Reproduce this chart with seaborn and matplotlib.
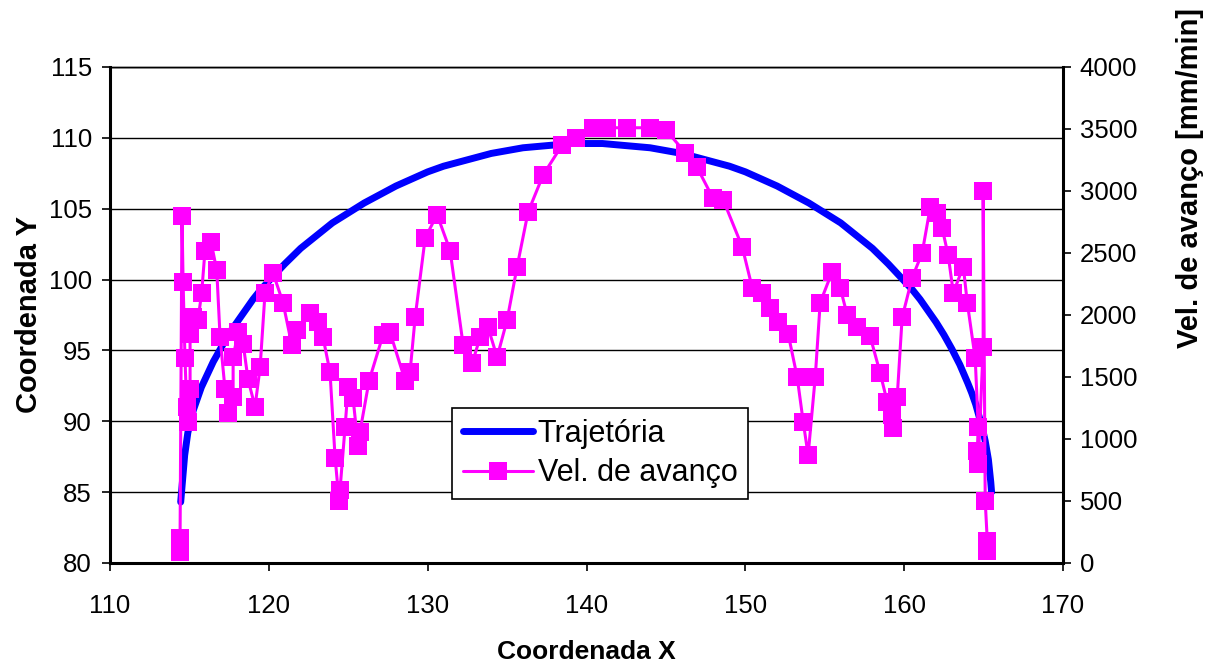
import matplotlib
matplotlib.use("Agg")
import matplotlib.pyplot as plt
import seaborn as sns
import pandas as pd
from matplotlib.lines import Line2D

# ---- data ----
traj_x = [114.45, 114.7, 114.9, 115.25, 115.75, 116.5, 117, 117.5, 118, 118.5, 119, 119.5,
          120, 121, 122, 123, 124, 125, 126, 127, 128, 129, 130, 131, 132, 133, 134, 135,
          136, 137, 138, 139, 140, 141, 142, 143, 144, 145, 146, 147, 148, 149, 150, 151,
          152, 153, 154, 155, 156, 157, 158, 159, 160, 160.5, 161, 161.5, 162, 162.5, 163,
          163.5, 164, 164.25, 164.5, 164.75, 165.0, 165.1, 165.3, 165.45, 165.5]
traj_y = [84.3, 87.6, 89.2, 90.8, 92.4, 94.2, 95.2, 96.2, 97.0, 97.8, 98.6, 99.3,
          99.9, 101.1, 102.2, 103.1, 104.0, 104.7, 105.4, 106.0, 106.6, 107.1, 107.6, 108.0,
          108.3, 108.6, 108.9, 109.1, 109.3, 109.4, 109.5, 109.6, 109.6, 109.6, 109.5, 109.4,
          109.3, 109.1, 108.9, 108.6, 108.3, 108.0, 107.6, 107.1, 106.6, 106.0, 105.4, 104.7,
          104.0, 103.1, 102.2, 101.1, 99.9, 99.3, 98.6, 97.8, 97.0, 96.1, 95.1,
          94.0, 92.7, 92.0, 91.2, 90.2, 89.1, 88.6, 87.3, 85.7, 85.0]

vel_x = [114.41, 114.41, 114.53, 114.60, 114.72, 114.83, 114.91, 115.04, 115.04, 115.23,
         115.54, 115.77, 115.98, 116.36, 116.72, 116.93, 117.24, 117.43, 117.75, 117.75,
         118.06, 118.38, 118.69, 119.13, 119.45, 119.76, 120.26, 120.89, 121.44, 121.76,
         122.59, 123.10, 123.41, 123.85, 124.17, 124.42, 124.48, 124.80, 124.99, 125.30,
         125.62, 125.74, 126.31, 127.19, 127.63, 128.58, 128.89, 129.21, 129.84, 130.59,
         131.41, 132.23, 132.80, 133.30, 133.80, 134.37, 135.00, 135.63, 136.32, 137.27,
         138.46, 139.35, 140.42, 141.30, 142.56, 144.00, 145.01, 146.21, 146.96, 147.97,
         148.60, 149.80, 150.43, 151.06, 151.56, 152.07, 152.69, 153.26, 153.64, 153.95,
         154.40, 154.71, 155.47, 155.97, 156.41, 157.04, 157.85, 158.49, 158.93, 159.24,
         159.31, 159.56, 159.87, 160.50, 161.13, 161.64, 162.08, 162.39, 162.77, 163.09,
         163.72, 163.97, 164.47, 164.66, 164.60, 164.66, 164.97, 164.97, 165.10, 165.23,
         165.23]
vel_v = [90, 200, 2800, 2270, 1650, 1260, 1140, 1400, 1850, 1980,
         1960, 2180, 2520, 2590, 2360, 1820, 1400, 1210, 1340, 1660,
         1860, 1770, 1480, 1260, 1580, 2180, 2340, 2100, 1760, 1880,
         2020, 1940, 1820, 1540, 850, 500, 590, 1100, 1420, 1330,
         940, 1060, 1470, 1840, 1860, 1470, 1540, 1980, 2620, 2810,
         2520, 1760, 1610, 1820, 1900, 1660, 1960, 2390, 2830, 3130,
         3370, 3430, 3510, 3510, 3510, 3510, 3490, 3310, 3190, 2940,
         2930, 2550, 2220, 2180, 2060, 1940, 1850, 1500, 1140, 870,
         1500, 2100, 2350, 2220, 2000, 1900, 1830, 1530, 1300, 1190,
         1090, 1340, 1980, 2300, 2500, 2870, 2820, 2700, 2480, 2180,
         2390, 2100, 1650, 1100, 900, 800, 1740, 3000, 500, 180,
         100]

x_ticks = [110, 120, 130, 140, 150, 160, 170]
y_ticks = [80, 85, 90, 95, 100, 105, 110, 115]
v_ticks = [0, 500, 1000, 1500, 2000, 2500, 3000, 3500, 4000]

BLUE = "#0000FF"
MAGENTA = "#FF00FF"

sns.set_style("ticks")
plt.rcParams['font.family'] = ['Liberation Sans', 'DejaVu Sans']
plt.rcParams['text.color'] = 'black'
plt.rcParams['axes.labelcolor'] = 'black'

fig = plt.figure(figsize=(12.05, 6.66), dpi=100)
ax = fig.add_axes([0.0913, 0.1547, 0.7909, 0.7447])
ax2 = ax.twinx()

traj = pd.DataFrame({"x": traj_x, "y": traj_y})
vel = pd.DataFrame({"x": vel_x, "v": vel_v})

sns.lineplot(data=traj, x="x", y="y", ax=ax, color=BLUE, linewidth=5,
             sort=False, estimator=None, legend=False, zorder=3,
             solid_capstyle="round", solid_joinstyle="round")
sns.lineplot(data=vel, x="x", y="v", ax=ax2, color=MAGENTA, linewidth=2.2,
             marker="s", markersize=12.5, markeredgecolor=MAGENTA, markeredgewidth=0,
             sort=False, estimator=None, legend=False, zorder=3)

ax.set_xlim(110, 170)
ax.set_ylim(80, 115)
ax2.set_ylim(0, 4000)
ax.set_xticks(x_ticks)
ax.set_yticks(y_ticks)
ax2.set_yticks(v_ticks)

ax.yaxis.grid(True, color="black", linewidth=1.0)
ax.xaxis.grid(False)
ax2.grid(False)

for a in (ax, ax2):
    for s in a.spines.values():
        s.set_color("black")
ax.spines["left"].set_linewidth(2.2)
ax.spines["bottom"].set_linewidth(2.2)
ax.spines["top"].set_linewidth(1.0)
ax2.spines["right"].set_linewidth(2.2)
ax2.spines["top"].set_linewidth(1.0)
ax.spines["right"].set_visible(False)
ax2.spines["left"].set_visible(False)
ax2.spines["bottom"].set_visible(False)

ax.tick_params(axis="x", direction="out", length=6, width=1.2, pad=16, labelsize=18.5, colors="black")
ax.tick_params(axis="y", direction="out", length=6, width=1.2, pad=7, labelsize=18.5, colors="black")
ax2.tick_params(axis="y", direction="out", length=6, width=1.2, pad=6, labelsize=18.5, colors="black")

ax.set_xlabel("Coordenada X", fontsize=19, fontweight="bold")
ax.set_ylabel("Coordenada Y", fontsize=21, fontweight="bold")
ax2.set_ylabel("Vel. de avanço [mm/min]", fontsize=21, fontweight="bold")
ax.xaxis.set_label_coords(0.5, -0.155)
ax.yaxis.set_label_coords(-0.07, 0.5)
ax2.yaxis.set_label_coords(1.118, 0.776)

handles = [Line2D([], [], color=BLUE, lw=5, solid_capstyle="round"),
           Line2D([], [], color=MAGENTA, lw=2.2, marker="s", markersize=12.5,
                  markeredgecolor=MAGENTA, markeredgewidth=0)]
leg = ax2.legend(handles, ["Trajetória", "Vel. de avanço"], loc="lower left",
                 bbox_to_anchor=(0.359, 0.129), borderaxespad=0, fontsize=22,
                 frameon=True, fancybox=False, edgecolor="black", framealpha=1,
                 handlelength=2.3, handletextpad=0.15, borderpad=0.35, labelspacing=0.3,
                 numpoints=1)
leg.get_frame().set_linewidth(1.2)

fig.savefig("out.png", dpi=100)
